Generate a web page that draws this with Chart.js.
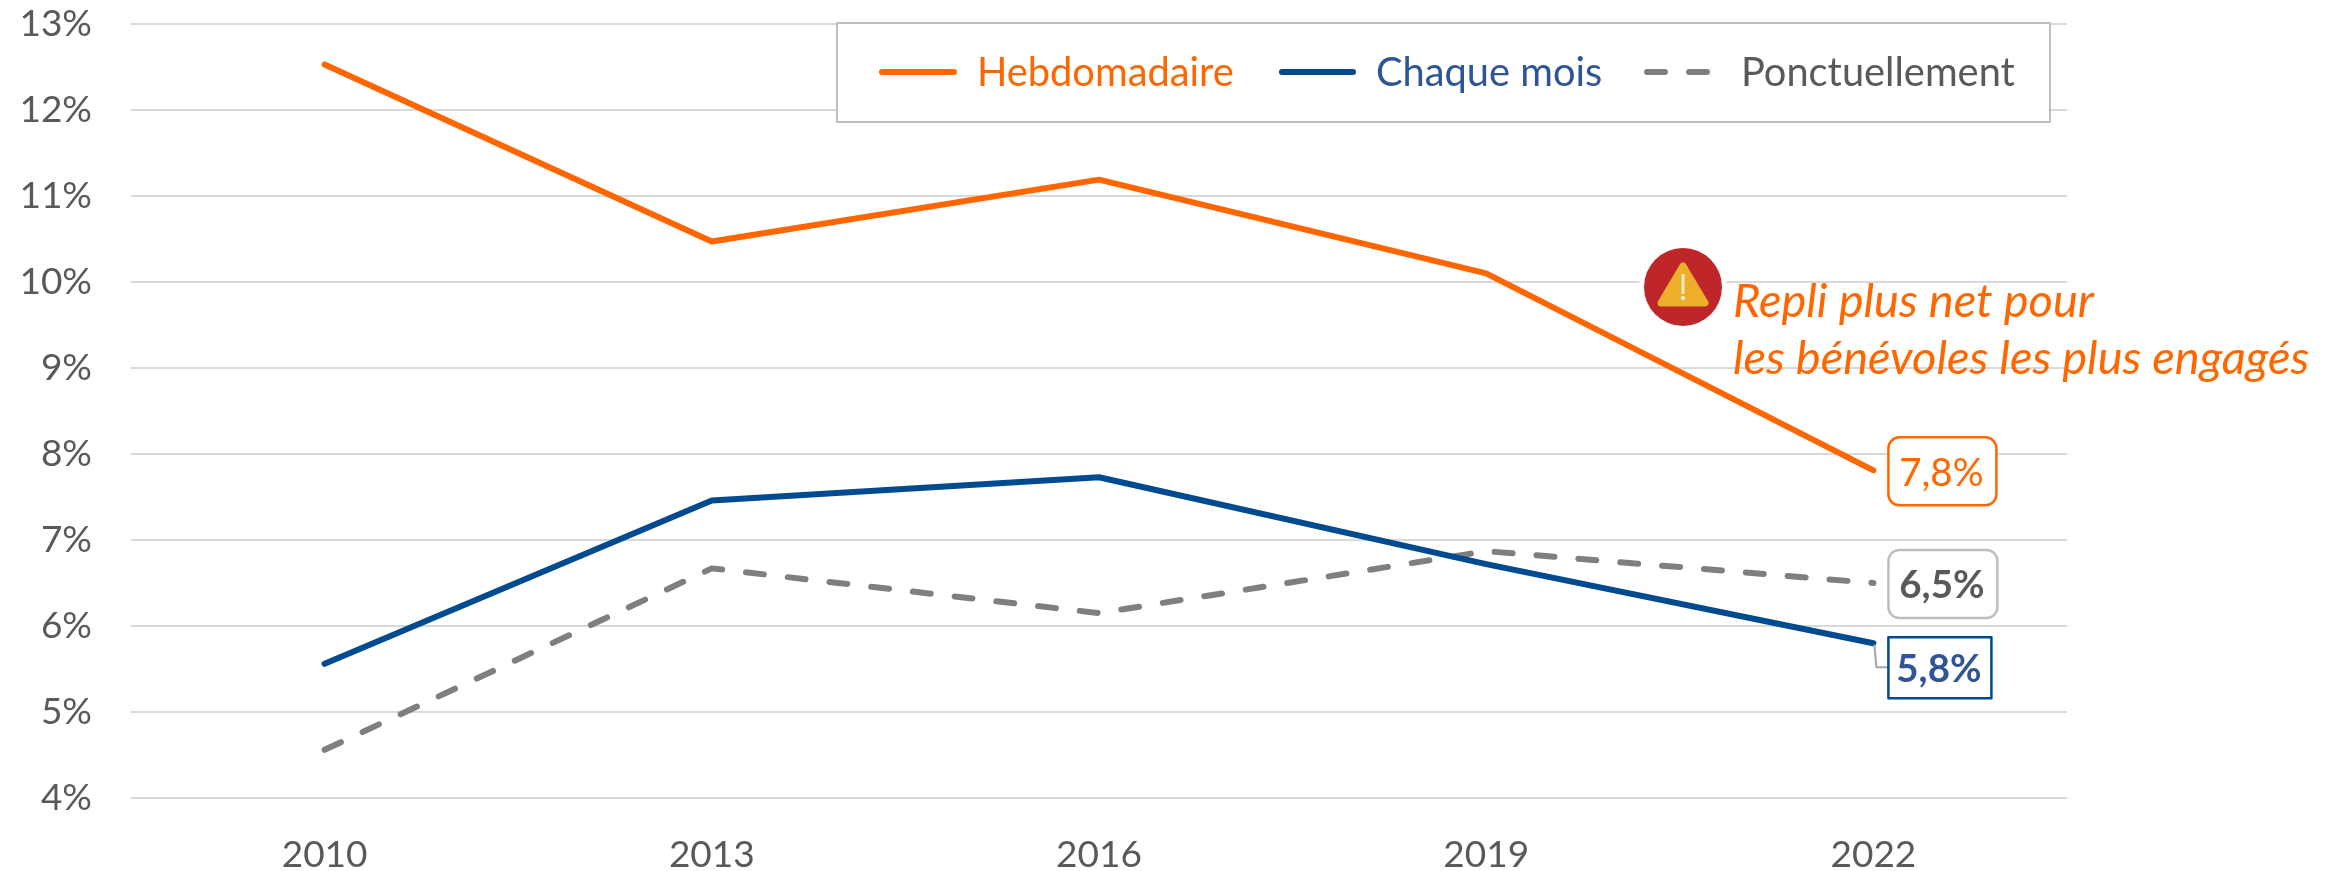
<!DOCTYPE html>
<html lang="fr">
<head>
<meta charset="utf-8">
<title>Bénévolat</title>
<script src="https://cdn.jsdelivr.net/npm/chart.js@4"></script>
<style>html,body{margin:0;padding:0;background:#fff}canvas{display:block}</style>
</head>
<body>
<canvas id="c" width="2341" height="871"></canvas>
<script>
const categories = ['2010', '2013', '2016', '2019', '2022'];
const hebdomadaire = [12.53, 10.47, 11.19, 10.10, 7.81];
const chaqueMois = [5.56, 7.46, 7.73, 6.72, 5.80];
const ponctuellement = [4.56, 6.67, 6.15, 6.87, 6.50];
const seriesNames = ['Hebdomadaire', 'Chaque mois', 'Ponctuellement'];
const noteLines = ['Repli plus net pour', 'les bénévoles les plus engagés'];

const ORANGE = '#FF6600', BLUE = '#004A8F', BLUE_TEXT = '#2F5597', GREY = '#7F7F7F', TEXT = '#595959';
const FONT = 'Lato, "Open Sans", sans-serif';

const overlay = {
  id: 'overlay',
  afterDatasetsDraw(chart) {
    const ctx = chart.ctx;
    const xs = chart.scales.x, ys = chart.scales.y;
    ctx.save();
    // Legend box
    ctx.fillStyle = '#fff';
    ctx.fillRect(837, 23, 1213, 99);
    ctx.strokeStyle = '#BFBFBF';
    ctx.lineWidth = 2;
    ctx.strokeRect(837, 23, 1213, 99);
    const legend = [
      {x0: 882, x1: 954, tx: 977, c: ORANGE, tc: ORANGE, dash: []},
      {x0: 1282, x1: 1353, tx: 1376, c: BLUE, tc: BLUE_TEXT, dash: []},
      {x0: 1647, x1: 1712, tx: 1741, c: GREY, tc: TEXT, dash: [18, 24]}
    ];
    ctx.font = '39.8px ' + FONT;
    ctx.textBaseline = 'alphabetic';
    legend.forEach((l, i) => {
      ctx.beginPath();
      ctx.setLineDash(l.dash);
      ctx.lineCap = 'round';
      ctx.lineWidth = 6;
      ctx.strokeStyle = l.c;
      ctx.moveTo(l.x0, 72);
      ctx.lineTo(l.x1, 72);
      ctx.stroke();
      ctx.setLineDash([]);
      ctx.fillStyle = l.tc;
      ctx.textAlign = 'left';
      ctx.fillText(seriesNames[i], l.tx, 86);
    });

    // Warning icon
    const ix = 1683, iy = 287;
    ctx.fillStyle = '#fff';
    ctx.beginPath(); ctx.arc(ix, iy, 44, 0, Math.PI * 2); ctx.fill();
    ctx.fillStyle = '#BE2629';
    ctx.beginPath(); ctx.arc(ix, iy, 39, 0, Math.PI * 2); ctx.fill();
    ctx.fillStyle = '#EDAE2A';
    ctx.strokeStyle = '#EDAE2A';
    ctx.lineJoin = 'round';
    ctx.lineWidth = 7;
    ctx.beginPath();
    ctx.moveTo(ix, 266); ctx.lineTo(ix + 22, 303); ctx.lineTo(ix - 22, 303); ctx.closePath();
    ctx.fill(); ctx.stroke();
    ctx.fillStyle = '#FBEBC8';
    ctx.fillRect(ix - 1.5, 274, 3, 20);
    ctx.beginPath(); ctx.arc(ix, 298, 2.2, 0, Math.PI * 2); ctx.fill();

    // Note
    ctx.fillStyle = ORANGE;
    ctx.textAlign = 'left';
    ctx.font = 'italic 47px ' + FONT;
    ctx.fillText(noteLines[0], 1733, 317);
    ctx.fillText(noteLines[1], 1733, 374);

    // End labels
    const lastIdx = categories.length - 1;
    const px = xs.getPixelForValue(lastIdx);
    const labels = [
      {v: hebdomadaire[lastIdx], dx: 15, dw: 108, dy: -33, h: 68, r: 11, line: ORANGE, col: ORANGE, bold: false},
      {v: ponctuellement[lastIdx], dx: 15, dw: 109, dy: -33, h: 68, r: 11, line: '#BFBFBF', col: TEXT, bold: true},
      {v: chaqueMois[lastIdx], dx: 15, dw: 103, dy: -6, h: 61, r: 0, line: BLUE, col: BLUE_TEXT, bold: true}
    ];
    labels.forEach((b, i) => {
      const py = ys.getPixelForValue(b.v);
      const x = px + b.dx, y = py + b.dy;
      if (i === 2) {
        ctx.strokeStyle = '#A6A6A6';
        ctx.lineWidth = 2;
        ctx.beginPath();
        ctx.moveTo(px + 1, py + 2);
        ctx.lineTo(px + 3, py + 24);
        ctx.lineTo(x, py + 24);
        ctx.stroke();
      }
      ctx.fillStyle = '#fff';
      ctx.strokeStyle = b.line;
      ctx.lineWidth = 2.5;
      ctx.beginPath();
      ctx.roundRect(x, y, b.dw, b.h, b.r);
      ctx.fill(); ctx.stroke();
      ctx.fillStyle = b.col;
      ctx.textAlign = 'center';
      ctx.textBaseline = 'middle';
      ctx.font = (b.bold ? 'bold ' : '') + '38.5px ' + FONT;
      ctx.fillText(b.v.toFixed(1).replace('.', ',') + '%', x + b.dw / 2 - 1, y + b.h / 2 + 2);
    });
    ctx.restore();
  }
};

new Chart(document.getElementById('c'), {
  type: 'line',
  data: {
    labels: categories,
    datasets: [
      {label: seriesNames[0], data: hebdomadaire, borderColor: ORANGE, backgroundColor: ORANGE, borderWidth: 6, borderCapStyle: 'round', borderJoinStyle: 'round', pointRadius: 0, tension: 0},
      {label: seriesNames[1], data: chaqueMois, borderColor: BLUE, backgroundColor: BLUE, borderWidth: 6, borderCapStyle: 'round', borderJoinStyle: 'round', pointRadius: 0, tension: 0},
      {label: seriesNames[2], data: ponctuellement, borderColor: GREY, backgroundColor: GREY, borderWidth: 6, borderDash: [18, 24], borderCapStyle: 'round', borderJoinStyle: 'round', pointRadius: 0, tension: 0}
    ]
  },
  options: {
    responsive: false,
    animation: false,
    devicePixelRatio: 1,
    layout: {autoPadding: false, padding: {left: 0, top: 24, right: 274, bottom: 0}},
    plugins: {legend: {display: false}, tooltip: {enabled: false}, title: {display: false}},
    scales: {
      x: {
        offset: true,
        grid: {display: false, offset: true},
        border: {display: false},
        ticks: {color: TEXT, font: {family: FONT, size: 37}, padding: 27, maxRotation: 0},
        afterFit(s) { s.height = 73; s.paddingLeft = 0; s.paddingRight = 0; }
      },
      y: {
        min: 4, max: 13,
        grid: {color: '#D9D9D9', lineWidth: 2, drawTicks: false},
        border: {display: false},
        ticks: {stepSize: 1, color: TEXT, font: {family: FONT, size: 37}, padding: 39, callback: v => v + '%'},
        afterFit(s) { s.width = 131; s.paddingTop = 0; s.paddingBottom = 0; }
      }
    }
  },
  plugins: [overlay]
});
</script>
</body>
</html>
